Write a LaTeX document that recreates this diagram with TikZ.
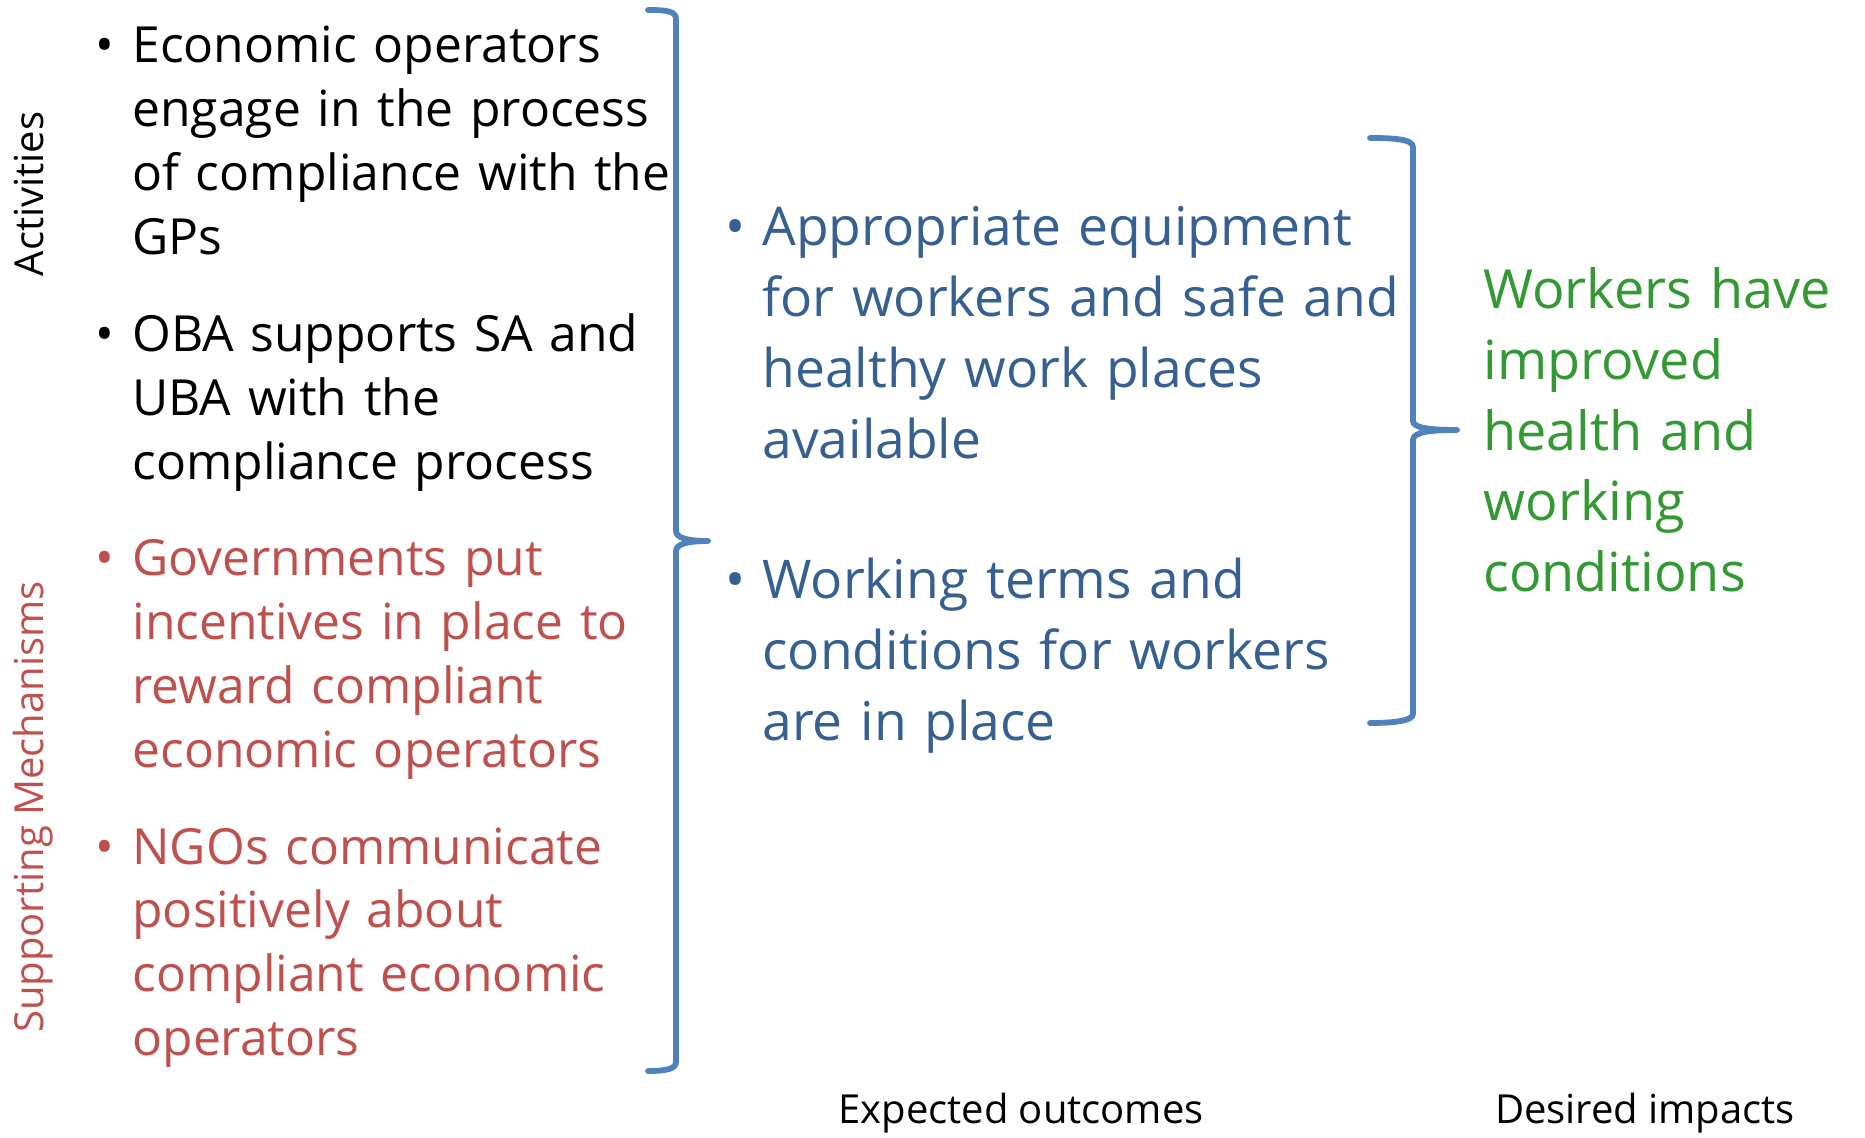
\documentclass[tikz,border=0pt]{standalone}
\usepackage{fontspec}
\setmainfont{Open Sans}
\definecolor{redtxt}{HTML}{C0504D}
\definecolor{bluetxt}{HTML}{376092}
\definecolor{bracecol}{HTML}{4F81BD}
\definecolor{greentxt}{HTML}{339933}
\newcommand\mybul{\llap{\makebox[18.5pt][l]{\textbullet}}}
\tikzset{
  txta/.style={anchor=base west, inner sep=0pt, align=left, text width=400pt,
    font=\fontsize{24.9}{31.9}\selectfont},
  txtb/.style={anchor=base west, inner sep=0pt, align=left, text width=400pt,
    font=\fontsize{26.7}{35.4}\selectfont},
  txtc/.style={anchor=base west, inner sep=0pt, align=left, text width=400pt,
    font=\fontsize{27}{35.3}\selectfont},
  lbl/.style={anchor=base, inner sep=0pt, font=\fontsize{20}{24}\selectfont},
  bracestyle/.style={draw=bracecol, line width=2.9pt, line cap=round, line join=round}
}
\begin{document}
\begin{tikzpicture}[x=0.5pt,y=-0.5pt]
\useasboundingbox (0,0) rectangle (1865,1138);

% side labels
\node[lbl, rotate=90] (act) at (43,194) {Activities};
\node[lbl, rotate=90, text=redtxt] (sup) at (43,807) {Supporting Mechanisms};

% left column
\node[txta] (a1) at (132,63) {\mybul Economic operators\\engage in the process\\of compliance with the\\GPs};
\node[txta] (a2) at (132,352) {\mybul OBA supports SA and\\UBA with the\\compliance process};
\node[txta, text=redtxt] (s1) at (132,576) {\mybul Governments put\\incentives in place to\\reward compliant\\economic operators};
\node[txta, text=redtxt] (s2) at (132,864) {\mybul NGOs communicate\\positively about\\compliant economic\\operators};

% outcomes
\node[txtb, text=bluetxt] (o1) at (762,246) {\mybul Appropriate equipment\\for workers and safe and\\healthy work places\\available};
\node[txtb, text=bluetxt] (o2) at (762,599) {\mybul Working terms and\\conditions for workers\\are in place};

% impact
\node[txtc, text=greentxt] (imp) at (1483,309) {Workers have\\improved\\health and\\working\\conditions};

% bottom labels
\node[lbl] (eo) at (1021,1123) {Expected outcomes};
\node[lbl] (di) at (1645,1123) {Desired impacts};

% left brace
\draw[bracestyle] (648,10) .. controls (666,10) and (676,11) .. (676,19)
  -- (676,531) .. controls (676,538) and (688,541) .. (708,541)
  .. controls (688,541) and (676,544) .. (676,551)
  -- (676,1062) .. controls (676,1069) and (666,1071) .. (648,1071);

% right brace
\draw[bracestyle] (1370,138) .. controls (1393,138) and (1413,139) .. (1413,147)
  -- (1413,421) .. controls (1413,428) and (1430,430) .. (1457,430)
  .. controls (1430,430) and (1413,432) .. (1413,440)
  -- (1413,714) .. controls (1413,721) and (1393,723) .. (1370,723);
\end{tikzpicture}
\end{document}
